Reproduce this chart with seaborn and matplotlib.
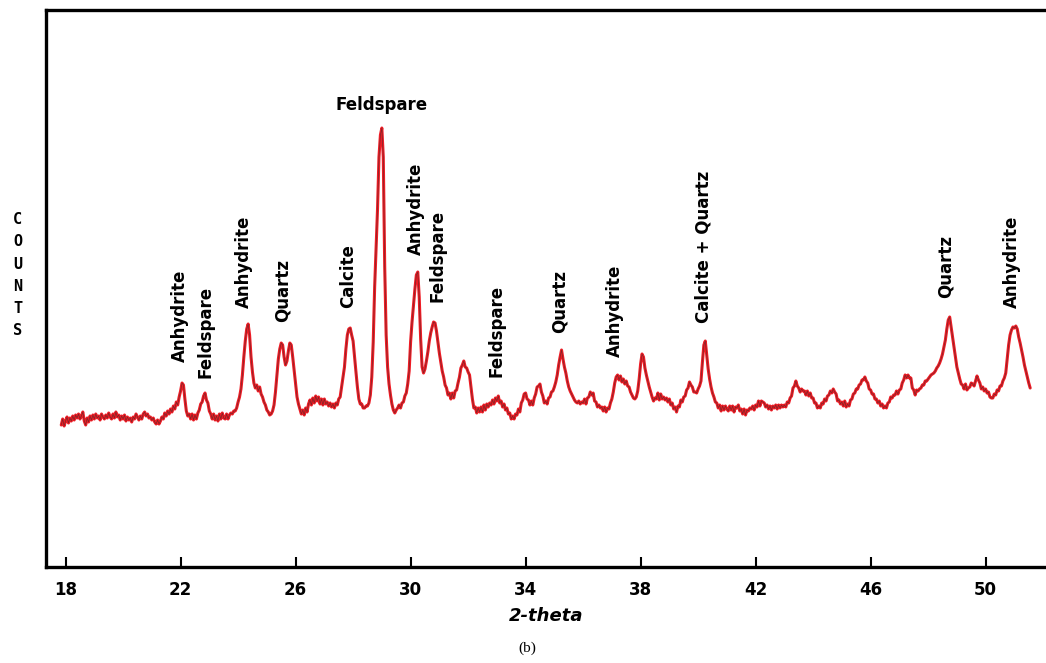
import numpy as np
import matplotlib
matplotlib.use("Agg")
import matplotlib.pyplot as plt
import seaborn as sns

# XRD scan: start angle, step, counts per degree (x.00 .. x.95)
scan_start = 17.85
scan_step = 0.05
counts_head = [142, 148, 141]  # 17.85 - 17.95
counts_by_degree = [
    [146, 150, 144, 149, 146, 151, 147, 152, 149, 153, 148, 151, 155, 146, 142, 149, 145, 151, 147, 152],  # 18
    [148, 153, 149, 151, 147, 153, 150, 148, 152, 149, 154, 150, 148, 153, 149, 155, 150, 152, 147, 151],  # 19
    [148, 152, 146, 150, 147, 149, 145, 150, 148, 153, 150, 147, 151, 148, 153, 155, 151, 153, 149, 150],  # 20
    [147, 149, 145, 143, 147, 143, 146, 150, 148, 154, 151, 156, 153, 158, 155, 161, 158, 165, 162, 170],  # 21
    [176, 184, 182, 168, 156, 151, 153, 148, 153, 147, 152, 148, 154, 157, 163, 165, 171, 174, 167, 164],  # 22
    [156, 153, 148, 153, 147, 151, 146, 153, 148, 154, 149, 148, 153, 148, 152, 154, 153, 156, 156, 159],  # 23
    [165, 170, 178, 192, 210, 226, 238, 243, 232, 210, 195, 184, 179, 182, 176, 180, 173, 170, 165, 162],  # 24
    [157, 155, 152, 153, 156, 162, 175, 192, 208, 218, 224, 222, 210, 202, 206, 216, 224, 222, 210, 197],  # 25
    [183, 170, 163, 158, 153, 157, 152, 159, 155, 163, 167, 162, 169, 164, 171, 166, 170, 163, 168, 162],  # 26
    [168, 163, 165, 161, 164, 160, 163, 159, 164, 162, 168, 170, 180, 190, 200, 218, 232, 238, 239, 232],  # 27
    [226, 210, 195, 180, 168, 163, 163, 159, 159, 161, 161, 164, 172, 190, 225, 280, 320, 358, 410, 432],  # 28
    [439, 410, 300, 232, 200, 183, 172, 163, 157, 154, 157, 159, 162, 159, 164, 165, 171, 174, 183, 196],  # 29
    [225, 245, 262, 278, 292, 295, 270, 228, 200, 194, 198, 206, 215, 226, 234, 240, 245, 244, 236, 225],  # 30
    [214, 205, 196, 190, 182, 179, 172, 174, 168, 174, 169, 176, 177, 184, 190, 199, 202, 206, 200, 199],  # 31
    [195, 192, 180, 168, 159, 160, 154, 159, 155, 160, 155, 162, 157, 163, 160, 164, 162, 167, 163, 169],  # 32
    [166, 171, 164, 166, 160, 163, 157, 159, 153, 154, 148, 151, 148, 153, 152, 158, 155, 164, 167, 173],  # 33
    [174, 168, 167, 162, 166, 162, 169, 173, 180, 181, 183, 175, 171, 164, 166, 163, 169, 170, 175, 176],  # 34
    [180, 185, 192, 202, 210, 217, 208, 200, 194, 186, 180, 176, 173, 170, 167, 165, 164, 166, 163, 165],  # 35
    [164, 168, 163, 169, 170, 175, 172, 174, 166, 165, 160, 162, 159, 160, 156, 160, 155, 159, 158, 164],  # 36
    [168, 175, 184, 190, 192, 187, 191, 185, 188, 183, 186, 181, 180, 175, 172, 169, 168, 170, 176, 188],  # 37
    [203, 213, 210, 199, 192, 186, 180, 175, 170, 166, 169, 168, 174, 167, 173, 168, 170, 167, 169, 165],  # 38
    [168, 162, 164, 158, 160, 155, 161, 160, 167, 165, 170, 171, 177, 179, 185, 182, 180, 175, 175, 174],  # 39
    [178, 181, 186, 205, 222, 226, 212, 198, 188, 180, 174, 170, 165, 164, 159, 162, 156, 161, 157, 161],  # 40
    [158, 156, 161, 157, 161, 155, 160, 159, 162, 156, 158, 153, 158, 152, 157, 156, 159, 158, 161, 157],  # 41
    [162, 160, 166, 161, 166, 165, 164, 160, 162, 158, 161, 157, 161, 159, 162, 158, 162, 159, 162, 160],  # 42
    [162, 160, 165, 164, 169, 171, 179, 181, 186, 181, 179, 175, 178, 176, 176, 172, 176, 171, 174, 169],  # 43
    [169, 164, 164, 159, 161, 159, 164, 163, 168, 166, 171, 172, 176, 174, 178, 175, 173, 166, 167, 163],  # 44
    [165, 161, 166, 160, 163, 161, 167, 168, 173, 174, 178, 178, 182, 183, 187, 187, 190, 186, 184, 178],  # 45
    [177, 173, 173, 168, 168, 164, 166, 161, 163, 159, 161, 159, 164, 165, 170, 169, 172, 172, 176, 173],  # 46
    [177, 178, 184, 187, 192, 189, 192, 189, 189, 179, 177, 172, 177, 176, 178, 179, 182, 182, 186, 186],  # 47
    [188, 190, 192, 193, 194, 196, 199, 201, 204, 208, 213, 220, 227, 238, 247, 250, 240, 230, 220, 210],  # 48
    [200, 194, 188, 183, 182, 178, 183, 177, 179, 180, 184, 183, 181, 186, 191, 187, 184, 178, 180, 176],  # 49
    [178, 174, 175, 170, 169, 169, 173, 172, 177, 176, 181, 181, 186, 189, 194, 208, 222, 232, 237, 240],  # 50
]
counts_tail = [239, 241, 238, 230, 224, 217, 210, 202, 196, 190, 184, 179]  # 51.00 - 51.55

# peak labels: text, 2-theta, counts at the start of the text
peak_names = ["Anhydrite", "Feldspare", "Anhydrite", "Quartz", "Calcite",
              "Anhydrite", "Feldspare", "Feldspare", "Quartz", "Anhydrite",
              "Calcite + Quartz", "Quartz", "Anhydrite"]
peak_x = [21.97, 22.87, 24.22, 25.55, 27.81, 30.17, 30.93, 32.98, 35.17, 37.12, 40.18, 48.62, 50.91]
peak_y = [205, 189, 259, 245, 259, 312, 265, 190, 234, 210, 244, 269, 259]
top_label = ("Feldspare", 28.99, 462)

xticks = [18, 22, 26, 30, 34, 38, 42, 46, 50]

counts = list(counts_head)
for row in counts_by_degree:
    counts += row
counts += counts_tail
counts = np.array(counts, dtype=float)
two_theta = scan_start + scan_step * np.arange(len(counts))

sns.set_style("white")
plt.rcParams['font.family'] = ['DejaVu Sans']
plt.rcParams['text.color'] = 'black'
plt.rcParams['axes.labelcolor'] = 'black'
plt.rcParams['xtick.color'] = 'black'

fig = plt.figure(figsize=(10.46, 6.63), dpi=100)
ax = fig.add_axes([0.044, 0.1448, 0.956, 0.8401])

sns.lineplot(x=two_theta, y=counts, ax=ax, color='#ee1c25', linewidth=2.2)
sns.lineplot(x=two_theta, y=counts, ax=ax, color='#4a2a2a', linewidth=0.5, alpha=0.7)

ax.set_xlim(17.32, 52.1)
ax.set_ylim(0, 557)
ax.set_yticks([])
ax.set_xticks(xticks)
ax.set_xticklabels([str(t) for t in xticks], fontweight='bold', fontsize=12)
ax.tick_params(axis='x', direction='in', length=7, width=1.5, pad=10, bottom=True)

for side in ['left', 'top', 'bottom']:
    ax.spines[side].set_linewidth(2.4)
    ax.spines[side].set_color('black')
ax.spines['right'].set_visible(False)

ax.set_xlabel('2-theta', fontsize=13, fontweight='bold', fontstyle='italic', labelpad=6)
ax.set_ylabel('')

for name, x, y in zip(peak_names, peak_x, peak_y):
    ax.text(x, y, name, rotation=90, ha='center', va='bottom',
            fontsize=12, fontweight='bold')
ax.text(top_label[1], top_label[2], top_label[0], ha='center', va='center',
        fontsize=12, fontweight='bold')

fig.text(0.017, 0.585, "C\nO\nU\nN\nT\nS", ha='center', va='center',
         fontsize=11, fontweight='bold', family='DejaVu Sans Mono', linespacing=1.6)
fig.text(0.504, 0.022, "(b)", ha='center', va='center', fontsize=11,
         family='Liberation Serif')

fig.savefig("out.png", dpi=100)
